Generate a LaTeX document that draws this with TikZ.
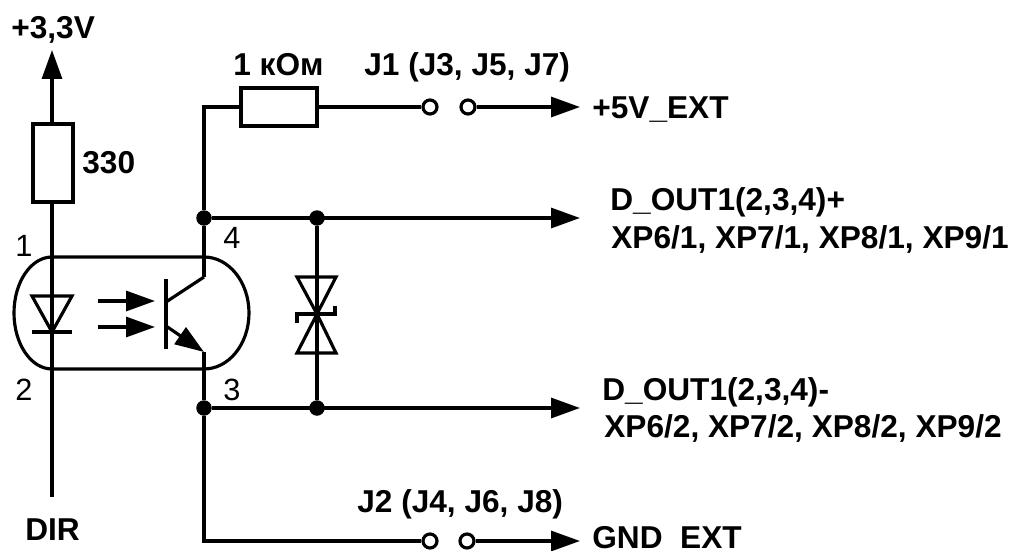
\documentclass[tikz,border=0pt]{standalone}
\usepackage{fontspec}
\setmainfont{Liberation Sans}
\usetikzlibrary{arrows.meta}
\tikzset{
  wire/.style={line width=1.8pt},
  sig/.style={wire,-{Triangle[length=0.58cm,width=0.4cm]}},
  opto/.style={wire,-{Triangle[length=0.58cm,width=0.4cm]}},
  res/.style={draw,wire,fill=white,inner sep=0pt},
  pin/.style={draw,wire,circle,fill=white,minimum size=0.28cm,inner sep=0pt},
  dot/.style={circle,fill=black,minimum size=0.31cm,inner sep=0pt},
  lbl/.style={font=\bfseries\fontsize{18}{18}\selectfont,inner sep=0pt,anchor=base west},
  num/.style={font=\fontsize{17.5}{17.5}\selectfont,inner sep=0pt}
}
\begin{document}
\begin{tikzpicture}[x=0.02cm,y=-0.02cm]
        \useasboundingbox (0,0) rectangle (1011,551);

        % Left wire with the 330 resistor
        \coordinate (dir) at (52,497);
        \coordinate (vcc) at (52,50);
        \draw[sig] (dir) -- (vcc);
        \node[res,minimum width=0.8cm,minimum height=1.56cm] (r330) at (53,163) {};

        % Housing of the optocoupler
        \draw[wire] (52,257) -- (204,257) arc[start angle=90,end angle=-90,x radius=45,y radius=-56]
          -- (52,369) arc[start angle=270,end angle=90,x radius=38,y radius=-56];

        % Diode
        \draw[wire] (32,296) -- (72,296) -- (52,332) -- cycle;
        \draw[wire] (32,332) -- (72,332);

        % Light arrows
        \foreach \y in {301,327} {
          \coordinate (lsrc\y) at (98,\y);
          \coordinate (ldst\y) at (155,\y);
          \draw[opto] (lsrc\y) -- (ldst\y);
        }

        % Transistor
        \coordinate (col) at (204,277);
        \coordinate (emi) at (204,352);
        \draw[wire] (166,279) -- (166,349);
        \draw[wire] (166,302) -- (col);
        \draw[opto] (166,326) -- (emi);

        % Junctions
        \node[dot] (ja) at (204,218) {};
        \node[dot] (jb) at (317,218) {};
        \node[dot] (jc) at (204,408) {};
        \node[dot] (jd) at (317,408) {};

        % Collector side
        \node[res,minimum width=1.52cm,minimum height=0.76cm] (r1k) at (279,107) {};
        \node[pin] (j1a) at (430,107) {};
        \node[pin] (j1b) at (468,107) {};
        \coordinate (ext5) at (580,107);
        \draw[wire] (col) -- (ja);
        \draw[wire] (ja) |- (r1k);
        \draw[wire] (r1k) -- (j1a);
        \draw[sig] (j1b) -- (ext5);

        % Outputs
        \coordinate (outp) at (580,218);
        \coordinate (outm) at (580,408);
        \draw[sig] (ja) -- (outp);
        \draw[sig] (jc) -- (outm);
        \draw[wire] (emi) -- (jc);

        % Emitter side
        \node[pin] (j2a) at (430,541) {};
        \node[pin] (j2b) at (467,541) {};
        \coordinate (gnd) at (580,541);
        \draw[wire] (jc) |- (j2a);
        \draw[sig] (j2b) -- (gnd);

        % Suppressor diode
        \draw[wire] (jb) -- (jd);
        \draw[wire] (297,277) -- (336,277) -- (317,314) -- cycle;
        \draw[wire] (297,353) -- (336,353) -- (317,314) -- cycle;
        \draw[wire] (297,323) -- (297,314) -- (335,314) -- (335,306);

        % Texts
        \node[lbl] (tvcc) at (11,38) {+3,3V};
        \node[lbl] (t330) at (82,173) {330};
        \node[lbl] (tr1k) at (233,75) {1 кОм};
        \node[lbl] (tj1) at (364,75) {J1 (J3, J5, J7)};
        \node[lbl] (text5) at (592,118) {+5V\_EXT};
        \node[lbl] (toutp) at (610,210) {D\_OUT1(2,3,4)+};
        \node[lbl] (txpp) at (611,248) {XP6/1, XP7/1, XP8/1, XP9/1};
        \node[lbl] (toutm) at (602,400) {D\_OUT1(2,3,4)-};
        \node[lbl] (txpm) at (604,437) {XP6/2, XP7/2, XP8/2, XP9/2};
        \node[lbl] (tj2) at (357,512) {J2 (J4, J6, J8)};
        \node[lbl] (tgnd) at (592,548) {GND\ \ EXT};
        \node[lbl] (tdir) at (25,540) {DIR};
        \node[num] (n1) at (24,246) {1};
        \node[num] (n2) at (24,390) {2};
        \node[num] (n4) at (232,238) {4};
        \node[num] (n3) at (232,390) {3};

\end{tikzpicture}
\end{document}
